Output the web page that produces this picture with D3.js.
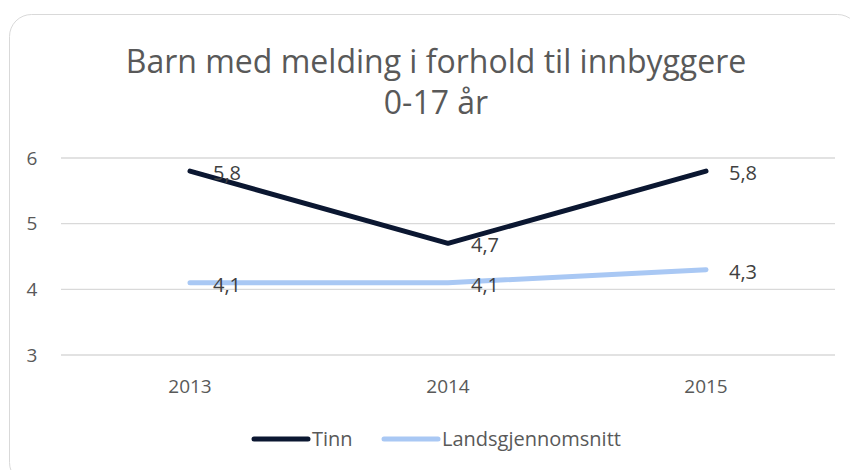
<!DOCTYPE html>
<html>
<head>
<meta charset="utf-8">
<script src="https://cdn.jsdelivr.net/npm/d3@7"></script>
<style>
  body { margin: 0; background: #fff; }
  svg text { font-family: "Open Sans", sans-serif; }
</style>
</head>
<body>
<div id="chart"></div>
<script>
const years = ["2013", "2014", "2015"];
const tinn = [5.8, 4.7, 5.8];
const landsgjennomsnitt = [4.1, 4.1, 4.3];
const yTicks = [3, 4, 5, 6];
const titleLines = ["Barn med melding i forhold til innbyggere", "0-17 år"];

const width = 850, height = 470;
const plot = {left: 61, right: 835, top: 158, bottom: 355};

const svg = d3.select("#chart")
    .append("svg")
    .attr("width", width)
    .attr("height", height);

// rounded frame
svg.append("rect")
    .attr("x", 9.5).attr("y", 14.5)
    .attr("width", 850).attr("height", 470)
    .attr("rx", 22)
    .attr("fill", "#fff")
    .attr("stroke", "#d9d9d9")
    .attr("stroke-width", 1);

svg.selectAll(".title")
    .data(titleLines)
    .enter().append("text")
    .attr("x", 436)
    .attr("y", (d, i) => 73 + i * 41)
    .attr("text-anchor", "middle")
    .attr("fill", "#595959")
    .style("font-size", "32px")
    .text(d => d);

const x = d3.scaleBand().domain(years).range([plot.left, plot.right]);
const y = d3.scaleLinear().domain([3, 6]).range([plot.bottom, plot.top]);

// gridlines
svg.selectAll(".grid")
    .data(yTicks)
    .enter().append("line")
    .attr("x1", plot.left).attr("x2", plot.right)
    .attr("y1", d => y(d)).attr("y2", d => y(d))
    .attr("stroke", "#d9d9d9")
    .attr("stroke-width", 1.3);

svg.selectAll(".ylab")
    .data(yTicks)
    .enter().append("text")
    .attr("x", 32)
    .attr("y", d => y(d))
    .attr("dy", "0.35em")
    .attr("text-anchor", "middle")
    .attr("fill", "#595959")
    .style("font-size", "19px")
    .text(d => d);

svg.selectAll(".xlab")
    .data(years)
    .enter().append("text")
    .attr("x", d => x(d) + x.bandwidth() / 2)
    .attr("y", 386)
    .attr("dy", "0.35em")
    .attr("text-anchor", "middle")
    .attr("fill", "#595959")
    .style("font-size", "19px")
    .text(d => d);

const series = [
    {name: "Tinn", values: tinn, color: "#0b1731"},
    {name: "Landsgjennomsnitt", values: landsgjennomsnitt, color: "#a9c8f4"}
];

const line = d3.line()
    .x((d, i) => x(years[i]) + x.bandwidth() / 2)
    .y(d => y(d));

// draw lighter series first, dark on top
series.slice().reverse().forEach(s => {
    svg.append("path")
        .datum(s.values)
        .attr("d", line)
        .attr("fill", "none")
        .attr("stroke", s.color)
        .attr("stroke-width", 5)
        .attr("stroke-linecap", "round")
        .attr("stroke-linejoin", "round");
});

series.forEach(s => {
    svg.selectAll(null)
        .data(s.values)
        .enter().append("text")
        .attr("x", (d, i) => x(years[i]) + x.bandwidth() / 2 + 23)
        .attr("y", (d, i) => y(d) + 2)
        .attr("dy", "0.35em")
        .attr("fill", "#404040")
        .style("font-size", "20px")
        .text(d => String(d).replace(".", ","));
});

// legend
const legend = [
    {name: "Tinn", color: "#0b1731", x: 254},
    {name: "Landsgjennomsnitt", color: "#a9c8f4", x: 384}
];
legend.forEach(l => {
    svg.append("line")
        .attr("x1", l.x).attr("x2", l.x + 54)
        .attr("y1", 439).attr("y2", 439)
        .attr("stroke", l.color)
        .attr("stroke-width", 5)
        .attr("stroke-linecap", "round");
    svg.append("text")
        .attr("x", l.x + 58)
        .attr("y", 439)
        .attr("dy", "0.35em")
        .attr("fill", "#595959")
        .style("font-size", "20px")
        .text(l.name);
});
</script>
</body>
</html>
